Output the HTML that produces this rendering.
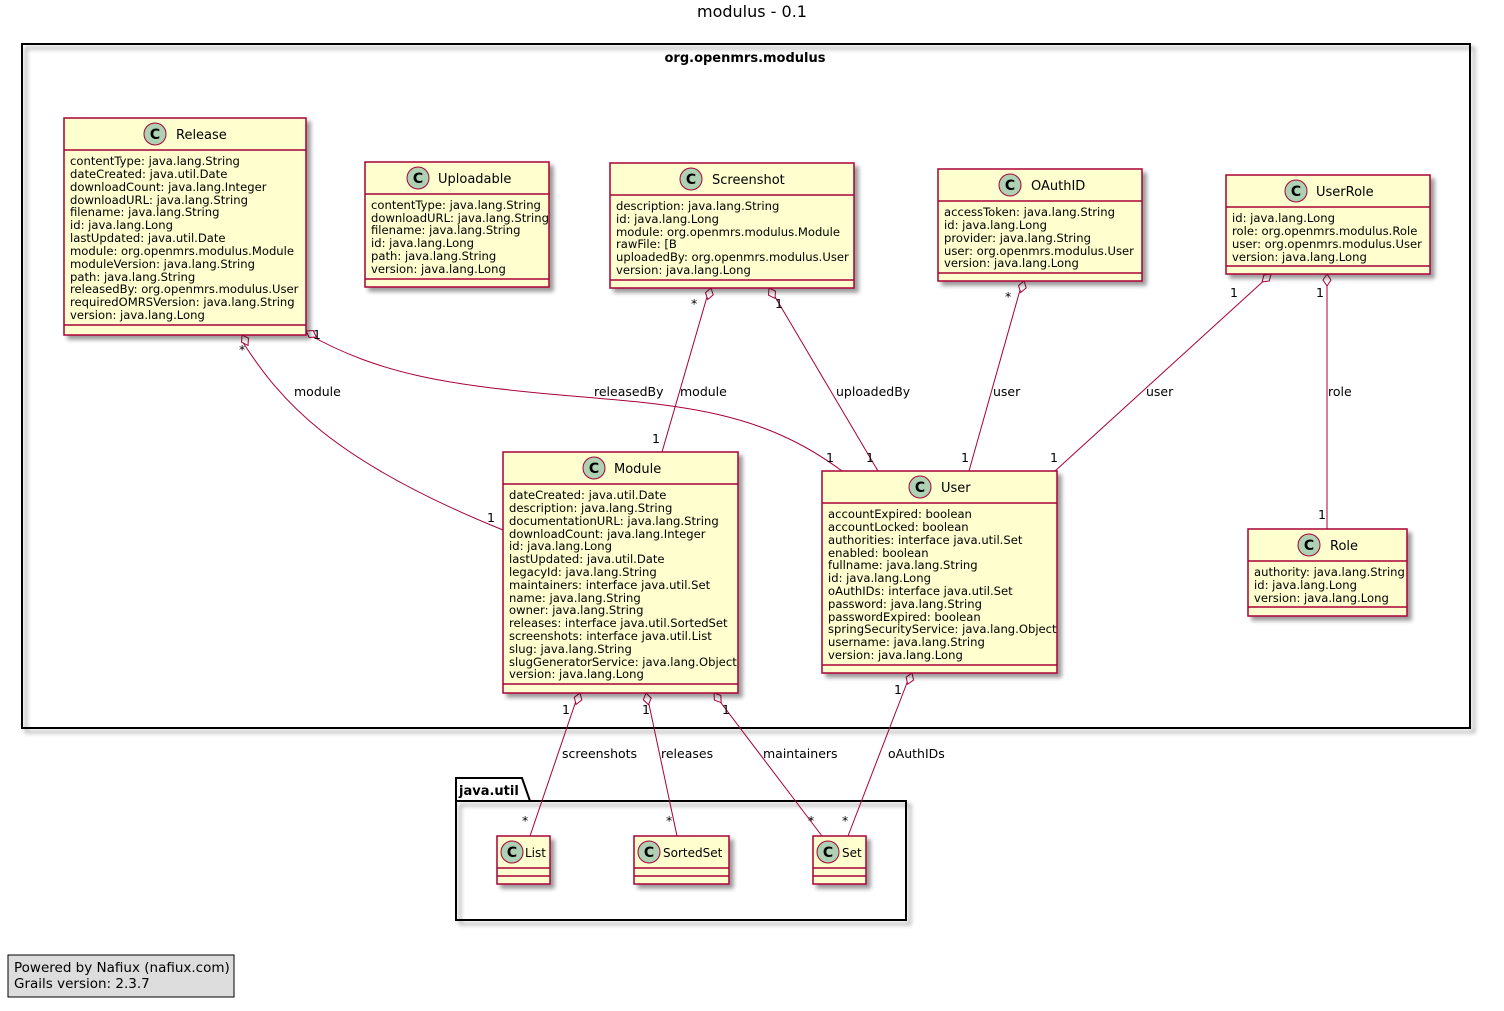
<!DOCTYPE html>
<html><head><meta charset="utf-8"><style>
html,body{margin:0;padding:0;background:#fff;}
svg text{font-family:"DejaVu Sans","Liberation Sans",sans-serif;}
</style></head><body>
<svg width="1504" height="1006" viewBox="0 0 1504 1006" xmlns="http://www.w3.org/2000/svg">
<defs>
<filter id="sh" x="-10%" y="-10%" width="130%" height="130%"><feGaussianBlur in="SourceAlpha" stdDeviation="2"/><feOffset dx="4" dy="4"/><feComponentTransfer><feFuncA type="linear" slope="0.4"/></feComponentTransfer><feMerge><feMergeNode/><feMergeNode in="SourceGraphic"/></feMerge></filter>
<g id="cic"><circle r="11" fill="#ADD1B2" stroke="#A80036" stroke-width="1"/><text x="0" y="5" text-anchor="middle" font-size="14" font-weight="bold" fill="#000">C</text></g>
<g id="dia"><polygon points="0,0 -4,-6 0,-12 4,-6" fill="#fff" stroke="#A80036" stroke-width="1"/></g>
</defs>
<rect width="1504" height="1006" fill="#fff"/>
<text x="752" y="17" text-anchor="middle" font-size="16">modulus - 0.1</text>

<rect x="22" y="44" width="1448" height="684" fill="none" stroke="#000" stroke-width="2" filter="url(#sh)"/>
<text x="745" y="62" text-anchor="middle" font-size="13" font-weight="bold">org.openmrs.modulus</text>

<path d="M456,801 L456,778 L522,778 L530,801 Z" fill="#fff" stroke="#000" stroke-width="2"/>
<rect x="456" y="801" width="450" height="119" fill="none" stroke="#000" stroke-width="2" filter="url(#sh)"/>
<text x="459" y="795" font-size="13" font-weight="bold">java.util</text>

<g fill="none" stroke="#A80036" stroke-width="1">
<path d="M242,341 C280,400 330,460 503,530"/>
<path d="M306,333 C380,375 450,385 560,395 C680,405 760,410 842,471"/>
<path d="M709,290 L662,452"/>
<path d="M771,290 L878,471"/>
<path d="M1022,283 L969,471"/>
<path d="M1269,276 L1055,471"/>
<path d="M1327,276 L1327,529"/>
<path d="M578,695 L530,836"/>
<path d="M647,695 L677,836"/>
<path d="M715,695 L822,836"/>
<path d="M910,675 L848,836"/>
</g>
<use href="#dia" transform="translate(242,335) rotate(150)"/>
<use href="#dia" transform="translate(306,331) rotate(120)"/>
<use href="#dia" transform="translate(711,288) rotate(196)"/>
<use href="#dia" transform="translate(769,288) rotate(150)"/>
<use href="#dia" transform="translate(1024,281) rotate(196)"/>
<use href="#dia" transform="translate(1271,274) rotate(228)"/>
<use href="#dia" transform="translate(1327,274) rotate(180)"/>
<use href="#dia" transform="translate(580,693) rotate(199)"/>
<use href="#dia" transform="translate(646,693) rotate(168)"/>
<use href="#dia" transform="translate(714,693) rotate(143)"/>
<use href="#dia" transform="translate(912,673) rotate(201)"/>

<g font-size="12.5" fill="#000">
<text x="294" y="396">module</text>
<text x="239" y="354">*</text>
<text x="487" y="522">1</text>
<text x="313" y="339">1</text>
<text x="594" y="396">releasedBy</text>
<text x="826" y="462">1</text>
<text x="691" y="308">*</text>
<text x="680" y="396">module</text>
<text x="652" y="443">1</text>
<text x="775" y="308">1</text>
<text x="836" y="396">uploadedBy</text>
<text x="866" y="462">1</text>
<text x="1005" y="301">*</text>
<text x="993" y="396">user</text>
<text x="961" y="462">1</text>
<text x="1230" y="297">1</text>
<text x="1146" y="396">user</text>
<text x="1050" y="462">1</text>
<text x="1316" y="297">1</text>
<text x="1328" y="396">role</text>
<text x="1318" y="519">1</text>
<text x="562" y="714">1</text>
<text x="562" y="758">screenshots</text>
<text x="522" y="825">*</text>
<text x="642" y="714">1</text>
<text x="661" y="758">releases</text>
<text x="666" y="825">*</text>
<text x="722" y="714">1</text>
<text x="763" y="758">maintainers</text>
<text x="808" y="825">*</text>
<text x="894" y="694">1</text>
<text x="888" y="758">oAuthIDs</text>
<text x="842" y="825">*</text>
</g>

<g stroke="#A80036" stroke-width="1.5" fill="#FEFECE">
<rect x="64" y="118" width="242" height="217" filter="url(#sh)"/>
<rect x="365" y="162" width="184" height="125" filter="url(#sh)"/>
<rect x="610" y="163" width="244" height="125" filter="url(#sh)"/>
<rect x="938" y="169" width="204" height="112" filter="url(#sh)"/>
<rect x="1226" y="175" width="204" height="99" filter="url(#sh)"/>
<rect x="503" y="452" width="235" height="241" filter="url(#sh)"/>
<rect x="822" y="471" width="235" height="202" filter="url(#sh)"/>
<rect x="1248" y="529" width="159" height="87" filter="url(#sh)"/>
<rect x="497" y="836" width="53" height="48" filter="url(#sh)"/>
<rect x="634" y="836" width="95" height="48" filter="url(#sh)"/>
<rect x="813" y="836" width="53" height="48" filter="url(#sh)"/>
</g>
<g stroke="#A80036" stroke-width="1.5">
<path d="M64,150H306M64,325H306"/>
<path d="M365,194H549M365,279H549"/>
<path d="M610,195H854M610,280H854"/>
<path d="M938,201H1142M938,273H1142"/>
<path d="M1226,207H1430M1226,266H1430"/>
<path d="M503,484H738M503,684H738"/>
<path d="M822,503H1057M822,665H1057"/>
<path d="M1248,561H1407M1248,607H1407"/>
<path d="M497,868H550M497,876H550"/>
<path d="M634,868H729M634,876H729"/>
<path d="M813,868H866M813,876H866"/>
</g>
<use href="#cic" x="155" y="134"/><text x="176" y="139" font-size="13">Release</text>
<use href="#cic" x="418" y="178"/><text x="438" y="183" font-size="13">Uploadable</text>
<use href="#cic" x="691" y="179"/><text x="712" y="184" font-size="13">Screenshot</text>
<use href="#cic" x="1010" y="185"/><text x="1031" y="190" font-size="13">OAuthID</text>
<use href="#cic" x="1296" y="191"/><text x="1316" y="196" font-size="13">UserRole</text>
<use href="#cic" x="594" y="468"/><text x="614" y="473" font-size="13">Module</text>
<use href="#cic" x="920" y="487"/><text x="941" y="492" font-size="13">User</text>
<use href="#cic" x="1309" y="545"/><text x="1330" y="550" font-size="13">Role</text>
<use href="#cic" x="512" y="852"/><text x="525" y="857" font-size="12">List</text>
<use href="#cic" x="649" y="852"/><text x="663" y="857" font-size="12">SortedSet</text>
<use href="#cic" x="828" y="852"/><text x="842" y="857" font-size="12">Set</text>

<g font-size="11.6" fill="#000">
<text x="70" y="165">contentType: java.lang.String</text>
<text x="70" y="178">dateCreated: java.util.Date</text>
<text x="70" y="191">downloadCount: java.lang.Integer</text>
<text x="70" y="204">downloadURL: java.lang.String</text>
<text x="70" y="216">filename: java.lang.String</text>
<text x="70" y="229">id: java.lang.Long</text>
<text x="70" y="242">lastUpdated: java.util.Date</text>
<text x="70" y="255">module: org.openmrs.modulus.Module</text>
<text x="70" y="268">moduleVersion: java.lang.String</text>
<text x="70" y="281">path: java.lang.String</text>
<text x="70" y="293">releasedBy: org.openmrs.modulus.User</text>
<text x="70" y="306">requiredOMRSVersion: java.lang.String</text>
<text x="70" y="319">version: java.lang.Long</text>

<text x="371" y="209">contentType: java.lang.String</text>
<text x="371" y="222">downloadURL: java.lang.String</text>
<text x="371" y="234">filename: java.lang.String</text>
<text x="371" y="247">id: java.lang.Long</text>
<text x="371" y="260">path: java.lang.String</text>
<text x="371" y="273">version: java.lang.Long</text>

<text x="616" y="210">description: java.lang.String</text>
<text x="616" y="223">id: java.lang.Long</text>
<text x="616" y="236">module: org.openmrs.modulus.Module</text>
<text x="616" y="248">rawFile: [B</text>
<text x="616" y="261">uploadedBy: org.openmrs.modulus.User</text>
<text x="616" y="274">version: java.lang.Long</text>

<text x="944" y="216">accessToken: java.lang.String</text>
<text x="944" y="229">id: java.lang.Long</text>
<text x="944" y="242">provider: java.lang.String</text>
<text x="944" y="255">user: org.openmrs.modulus.User</text>
<text x="944" y="267">version: java.lang.Long</text>

<text x="1232" y="222">id: java.lang.Long</text>
<text x="1232" y="235">role: org.openmrs.modulus.Role</text>
<text x="1232" y="248">user: org.openmrs.modulus.User</text>
<text x="1232" y="261">version: java.lang.Long</text>

<text x="509" y="499">dateCreated: java.util.Date</text>
<text x="509" y="512">description: java.lang.String</text>
<text x="509" y="525">documentationURL: java.lang.String</text>
<text x="509" y="538">downloadCount: java.lang.Integer</text>
<text x="509" y="550">id: java.lang.Long</text>
<text x="509" y="563">lastUpdated: java.util.Date</text>
<text x="509" y="576">legacyId: java.lang.String</text>
<text x="509" y="589">maintainers: interface java.util.Set</text>
<text x="509" y="602">name: java.lang.String</text>
<text x="509" y="614">owner: java.lang.String</text>
<text x="509" y="627">releases: interface java.util.SortedSet</text>
<text x="509" y="640">screenshots: interface java.util.List</text>
<text x="509" y="653">slug: java.lang.String</text>
<text x="509" y="666">slugGeneratorService: java.lang.Object</text>
<text x="509" y="678">version: java.lang.Long</text>

<text x="828" y="518">accountExpired: boolean</text>
<text x="828" y="531">accountLocked: boolean</text>
<text x="828" y="544">authorities: interface java.util.Set</text>
<text x="828" y="557">enabled: boolean</text>
<text x="828" y="569">fullname: java.lang.String</text>
<text x="828" y="582">id: java.lang.Long</text>
<text x="828" y="595">oAuthIDs: interface java.util.Set</text>
<text x="828" y="608">password: java.lang.String</text>
<text x="828" y="621">passwordExpired: boolean</text>
<text x="828" y="633">springSecurityService: java.lang.Object</text>
<text x="828" y="646">username: java.lang.String</text>
<text x="828" y="659">version: java.lang.Long</text>

<text x="1254" y="576">authority: java.lang.String</text>
<text x="1254" y="589">id: java.lang.Long</text>
<text x="1254" y="602">version: java.lang.Long</text>
</g>

<rect x="8" y="955" width="226" height="42" fill="#DDDDDD" stroke="#000" stroke-width="1"/>
<text x="14" y="972" font-size="13.5">Powered by Nafiux (nafiux.com)</text>
<text x="14" y="988" font-size="13.5">Grails version: 2.3.7</text>
</svg>
</body></html>
